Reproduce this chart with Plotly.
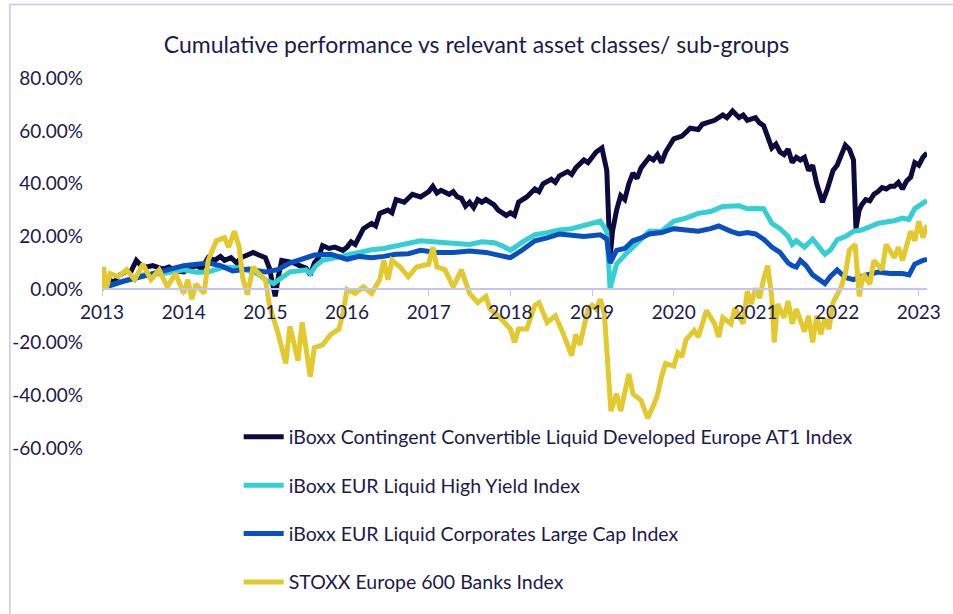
import plotly.graph_objects as go

# ---- data (decimal years, cumulative performance in %) ----
at1_x = [2013.0, 2013.05, 2013.1, 2013.15, 2013.2, 2013.3, 2013.35, 2013.42, 2013.48, 2013.55, 2013.62, 2013.75,
         2013.82, 2013.9, 2014.0, 2014.08, 2014.15, 2014.22, 2014.3, 2014.38, 2014.45, 2014.5, 2014.58, 2014.65,
         2014.7, 2014.78, 2014.85, 2014.92, 2015.0, 2015.05, 2015.08, 2015.12, 2015.16, 2015.2, 2015.28, 2015.35,
         2015.42, 2015.5, 2015.55, 2015.6, 2015.65, 2015.7, 2015.78, 2015.85, 2015.95, 2016.0, 2016.05, 2016.1,
         2016.15, 2016.2, 2016.3, 2016.35, 2016.4, 2016.5, 2016.55, 2016.6, 2016.7, 2016.8, 2016.9, 2017.0,
         2017.05, 2017.1, 2017.15, 2017.25, 2017.3, 2017.35, 2017.4, 2017.45, 2017.5, 2017.55, 2017.6, 2017.65,
         2017.7, 2017.75, 2017.8, 2017.85, 2017.9, 2017.95, 2018.0, 2018.05, 2018.1, 2018.2, 2018.3, 2018.35,
         2018.4, 2018.5, 2018.55, 2018.6, 2018.7, 2018.75, 2018.8, 2018.9, 2018.95, 2019.05, 2019.12, 2019.18,
         2019.22, 2019.25, 2019.3, 2019.35, 2019.4, 2019.45, 2019.5, 2019.55, 2019.6, 2019.7, 2019.75, 2019.8,
         2019.85, 2019.9, 2020.0, 2020.1, 2020.15, 2020.2, 2020.3, 2020.35, 2020.4, 2020.5, 2020.6, 2020.65,
         2020.72, 2020.8, 2020.85, 2020.9, 2021.0, 2021.05, 2021.1, 2021.15, 2021.2, 2021.25, 2021.3, 2021.35,
         2021.4, 2021.45, 2021.5, 2021.55, 2021.6, 2021.65, 2021.7, 2021.75, 2021.82, 2021.88, 2021.95, 2022.0,
         2022.05, 2022.1, 2022.15, 2022.2, 2022.23, 2022.27, 2022.3, 2022.35, 2022.4, 2022.45, 2022.5, 2022.55,
         2022.6, 2022.65, 2022.7, 2022.75, 2022.8, 2022.85, 2022.9, 2022.95, 2023.0, 2023.05, 2023.1]
at1_y = [1, 2, 3.5, 2.5, 5, 7, 6.5, 11, 9, 8.5, 9, 7.7,
         8.5, 7, 6.6, 8, 9, 8, 12, 11, 12.5, 11, 12, 10,
         12, 13, 14, 13, 12, 8, 4, -2.6, 5, 11, 10.5, 10,
         9, 8, 5.5, 10, 12, 16.6, 15.5, 16, 14.8, 16, 18, 17,
         20, 23, 25, 24, 28.8, 30, 29, 34, 33, 36, 35, 37,
         39, 36.5, 37.5, 36, 37, 35, 34.5, 31.5, 33, 31, 34, 33,
         34, 33, 32, 30, 28.8, 28, 29, 28, 33, 35, 38, 37,
         40, 41.7, 40.5, 43, 44.6, 43.5, 46, 49, 48, 52, 53.5, 45,
         12, 22, 30, 35.5, 34, 40, 44, 42, 46, 50, 49, 51,
         48, 52, 57, 58, 59.5, 61, 60.5, 62.5, 63, 64, 66, 65,
         67.5, 65, 66, 64, 65, 63, 62, 57, 53.5, 55, 52, 51,
         53, 48, 50, 49, 50, 45, 47, 40, 33, 38, 45, 47,
         51, 54.6, 53, 49, 23, 30, 32, 34, 33.5, 36, 37, 38.5,
         38, 39, 39, 40.5, 38, 41, 42.5, 48, 47, 50, 51.6]

hy_x = [2013.0, 2013.25, 2013.5, 2013.75, 2014.0, 2014.15, 2014.3, 2014.5, 2014.7, 2014.9, 2015.0, 2015.1,
        2015.2, 2015.3, 2015.4, 2015.5, 2015.55, 2015.62, 2015.7, 2015.85, 2016.0, 2016.15, 2016.3, 2016.45,
        2016.6, 2016.75, 2016.9, 2017.05, 2017.2, 2017.35, 2017.5, 2017.65, 2017.8, 2017.9, 2018.0, 2018.15,
        2018.3, 2018.45, 2018.6, 2018.75, 2018.9, 2019.0, 2019.1, 2019.18, 2019.22, 2019.26, 2019.3, 2019.4,
        2019.5, 2019.6, 2019.7, 2019.85, 2020.0, 2020.15, 2020.3, 2020.45, 2020.6, 2020.8, 2020.9, 2021.0,
        2021.1, 2021.2, 2021.3, 2021.4, 2021.45, 2021.5, 2021.6, 2021.7, 2021.78, 2021.85, 2021.92, 2022.0,
        2022.1, 2022.2, 2022.3, 2022.4, 2022.5, 2022.6, 2022.7, 2022.8, 2022.88, 2022.95, 2023.05, 2023.1]
hy_y = [0.5, 3, 5.5, 6, 7.4, 6.5, 6.6, 8.5, 8, 6, 3.7, 2.2,
        4.5, 6.6, 7, 7.4, 6, 9, 11, 12, 13, 14, 15, 15.5,
        16.6, 17.5, 18.4, 18, 17.7, 17, 17, 18, 17.7, 16.5, 14.8, 18,
        20.7, 21.5, 22.5, 23, 24, 25, 25.8, 22, 0.5, 5, 9.6, 13,
        16, 19, 22, 22, 25.8, 27, 28.8, 29.5, 31.4, 31.7, 30.5, 30.6,
        30.5, 25, 23, 20, 17, 18.4, 16, 19, 16, 13.3, 15, 18.8,
        20, 22, 22.5, 24, 25, 25.5, 26, 27, 26.5, 30.6, 32.5, 33.6]

corp_x = [2013.0, 2013.25, 2013.5, 2013.75, 2014.0, 2014.3, 2014.45, 2014.6, 2014.8, 2015.0, 2015.15, 2015.3,
          2015.45, 2015.6, 2015.8, 2016.0, 2016.15, 2016.3, 2016.45, 2016.6, 2016.75, 2016.9, 2017.1, 2017.3,
          2017.5, 2017.7, 2017.85, 2018.0, 2018.15, 2018.3, 2018.45, 2018.6, 2018.75, 2018.9, 2019.1, 2019.18,
          2019.22, 2019.26, 2019.3, 2019.4, 2019.5, 2019.6, 2019.7, 2019.85, 2020.0, 2020.15, 2020.3, 2020.45,
          2020.55, 2020.7, 2020.8, 2020.9, 2021.0, 2021.1, 2021.2, 2021.3, 2021.4, 2021.45, 2021.5, 2021.55,
          2021.62, 2021.7, 2021.78, 2021.85, 2021.92, 2022.0, 2022.1, 2022.2, 2022.3, 2022.4, 2022.5, 2022.65,
          2022.8, 2022.88, 2022.95, 2023.05, 2023.1]
corp_y = [0.5, 3, 5, 7, 9, 10, 9, 7, 7.7, 6.6, 7.5, 10,
          11.5, 13, 13.3, 11.4, 12.5, 12, 12.5, 13.3, 13.5, 14.8, 14, 14,
          14.5, 14, 13, 12, 15, 18.4, 19.5, 21, 20.5, 20, 20.7, 19,
          10, 12, 14.8, 15.5, 18.4, 19.5, 21, 21.5, 23, 22.5, 22, 23,
          24, 22, 21, 21.5, 21, 19, 16, 14, 10, 9, 8.5, 11,
          9, 5.5, 4, 2.2, 5, 7.4, 4.5, 3.7, 5, 6, 6.6, 6,
          6, 5.5, 9.6, 11, 11.4]

banks_x = [2013.0, 2013.02, 2013.05, 2013.1, 2013.2, 2013.3, 2013.4, 2013.5, 2013.6, 2013.7, 2013.8, 2013.9,
           2014.0, 2014.05, 2014.1, 2014.15, 2014.25, 2014.3, 2014.4, 2014.5, 2014.55, 2014.62, 2014.68, 2014.72,
           2014.78, 2014.85, 2014.92, 2015.0, 2015.05, 2015.15, 2015.25, 2015.3, 2015.4, 2015.45, 2015.55, 2015.6,
           2015.7, 2015.8, 2015.9, 2015.95, 2016.0, 2016.1, 2016.2, 2016.3, 2016.4, 2016.45, 2016.5, 2016.55,
           2016.65, 2016.75, 2016.85, 2017.0, 2017.05, 2017.1, 2017.2, 2017.3, 2017.4, 2017.5, 2017.6, 2017.7,
           2017.75, 2017.85, 2018.0, 2018.05, 2018.1, 2018.2, 2018.3, 2018.35, 2018.45, 2018.55, 2018.65, 2018.75,
           2018.8, 2018.85, 2018.95, 2019.0, 2019.05, 2019.1, 2019.15, 2019.2, 2019.23, 2019.3, 2019.35, 2019.45,
           2019.5, 2019.6, 2019.68, 2019.75, 2019.8, 2019.85, 2019.9, 2020.0, 2020.05, 2020.1, 2020.15, 2020.25,
           2020.3, 2020.4, 2020.5, 2020.55, 2020.6, 2020.7, 2020.75, 2020.85, 2020.9, 2020.95, 2021.0, 2021.05,
           2021.1, 2021.15, 2021.2, 2021.23, 2021.27, 2021.35, 2021.4, 2021.45, 2021.5, 2021.6, 2021.65, 2021.7,
           2021.75, 2021.8, 2021.85, 2021.9, 2021.95, 2022.05, 2022.1, 2022.15, 2022.22, 2022.27, 2022.32, 2022.4,
           2022.45, 2022.55, 2022.6, 2022.7, 2022.75, 2022.8, 2022.85, 2022.9, 2022.95, 2023.0, 2023.05, 2023.1]
banks_y = [0, 8.5, 0, 6, 4.8, 7.4, 3.7, 9.6, 3.7, 7.4, 1, 6,
           -1.5, 3.7, -3.7, 2, -1.5, 11, 18.4, 19.6, 16, 22, 16, 4.8,
           -2, 8.5, 6, 3.7, -6, -16, -28, -14, -27, -12.5, -33, -22,
           -21, -17, -15, -9, 0, -1.5, 1, -1.5, 3.7, 11, 3.7, 11,
           8.5, 4.8, 8.5, 9.6, 16, 8.5, 7.4, 1, 7.4, -1.5, -5, -2.6,
           -7.4, -10, -15, -20, -15, -15, -6, -5, -12.5, -10, -17, -25,
           -17, -21, -7.4, -6, -7.4, -3.7, -9, -37, -46, -39.5, -46, -32,
           -39.5, -42, -48.7, -44, -40, -33, -28, -29, -24, -25.5, -19, -15.5,
           -18, -8, -13, -18, -10.7, -13, -7, -13, -0.7, -5.5, 0.4, -3.3,
           4, 9, -3, -20, -5.5, -10.7, -4.4, -13, -7.4, -16, -10, -20,
           -10, -17, -11, -15, -5, 1, 6, 14.8, 17, -2.6, 6, 2,
           11, 7.4, 17, 12, 16, 11, 17, 22, 18.4, 25.8, 19.6, 24.4]

names = ["iBoxx Contingent Convertible Liquid Developed Europe AT1 Index",
         "iBoxx EUR Liquid High Yield Index",
         "iBoxx EUR Liquid Corporates Large Cap Index",
         "STOXX Europe 600 Banks Index"]
year_ticks = list(range(2013, 2024))
y_ticks = [-60, -40, -20, 0, 20, 40, 60, 80]

colors = ["#0b0b3d", "#33cfd2", "#0a4fc0", "#e2c92e"]
TEXT = "#1b1b4b"
FONT = "Lato"

fig = go.Figure()
series = [(at1_x, at1_y), (hy_x, hy_y), (corp_x, corp_y), (banks_x, banks_y)]
for i in range(4):
    xs, ys = series[i]
    fig.add_trace(go.Scatter(
        x=xs, y=[v / 100 for v in ys], mode="lines", name=names[i],
        legendgroup=f"g{i}",
        line=dict(color=colors[i], width=5),
    ))

W, H = 953, 614
L, R, T, B = 100, 933, 78, 456
fig.update_layout(
    width=W, height=H,
    margin=dict(l=L, r=W - R, t=T, b=H - B),
    paper_bgcolor="white", plot_bgcolor="white",
    font=dict(family=FONT, color=TEXT, size=19),
    title=dict(text="Cumulative performance vs relevant asset classes/ sub-groups",
               x=0.5, xanchor="center", y=1 - 45 / H, yanchor="middle",
               font=dict(family=FONT, size=23, color=TEXT)),
    showlegend=True,
    legend=dict(x=(238 - L) / (R - L), xanchor="left",
                y=(B - 425) / (B - T), yanchor="top",
                traceorder="grouped",
                bgcolor="rgba(0,0,0,0)", tracegroupgap=20,
                font=dict(family=FONT, size=19.5, color=TEXT),
                itemwidth=40),
    xaxis=dict(range=[2013, 2023.1], tickvals=year_ticks, ticktext=[str(v) for v in year_ticks],
               anchor="free", position=0.6 / 1.4,
               showline=True, linecolor="#c4c4f4", linewidth=2,
               ticks="outside", ticklen=6, tickcolor="#c4c4f4", tickwidth=1,
               showgrid=False, zeroline=False,
               tickfont=dict(family=FONT, size=19, color=TEXT)),
    yaxis=dict(range=[-0.6, 0.8], tickvals=[v / 100 for v in y_ticks],
               ticktext=[f"{v:.2f}%" for v in y_ticks],
               showgrid=False, zeroline=False, showline=False, ticks="",
               ticklabelstandoff=18,
               tickfont=dict(family=FONT, size=19, color=TEXT)),
    shapes=[dict(type="rect", xref="paper", yref="paper",
                 x0=(7 - L) / (R - L), x1=(975 - L) / (R - L),
                 y0=(B - 640) / (B - T), y1=(B - 3) / (B - T),
                 line=dict(color="#c8c8f0", width=1.5), fillcolor="rgba(0,0,0,0)", layer="below")],
)

fig.write_html("out.html")
